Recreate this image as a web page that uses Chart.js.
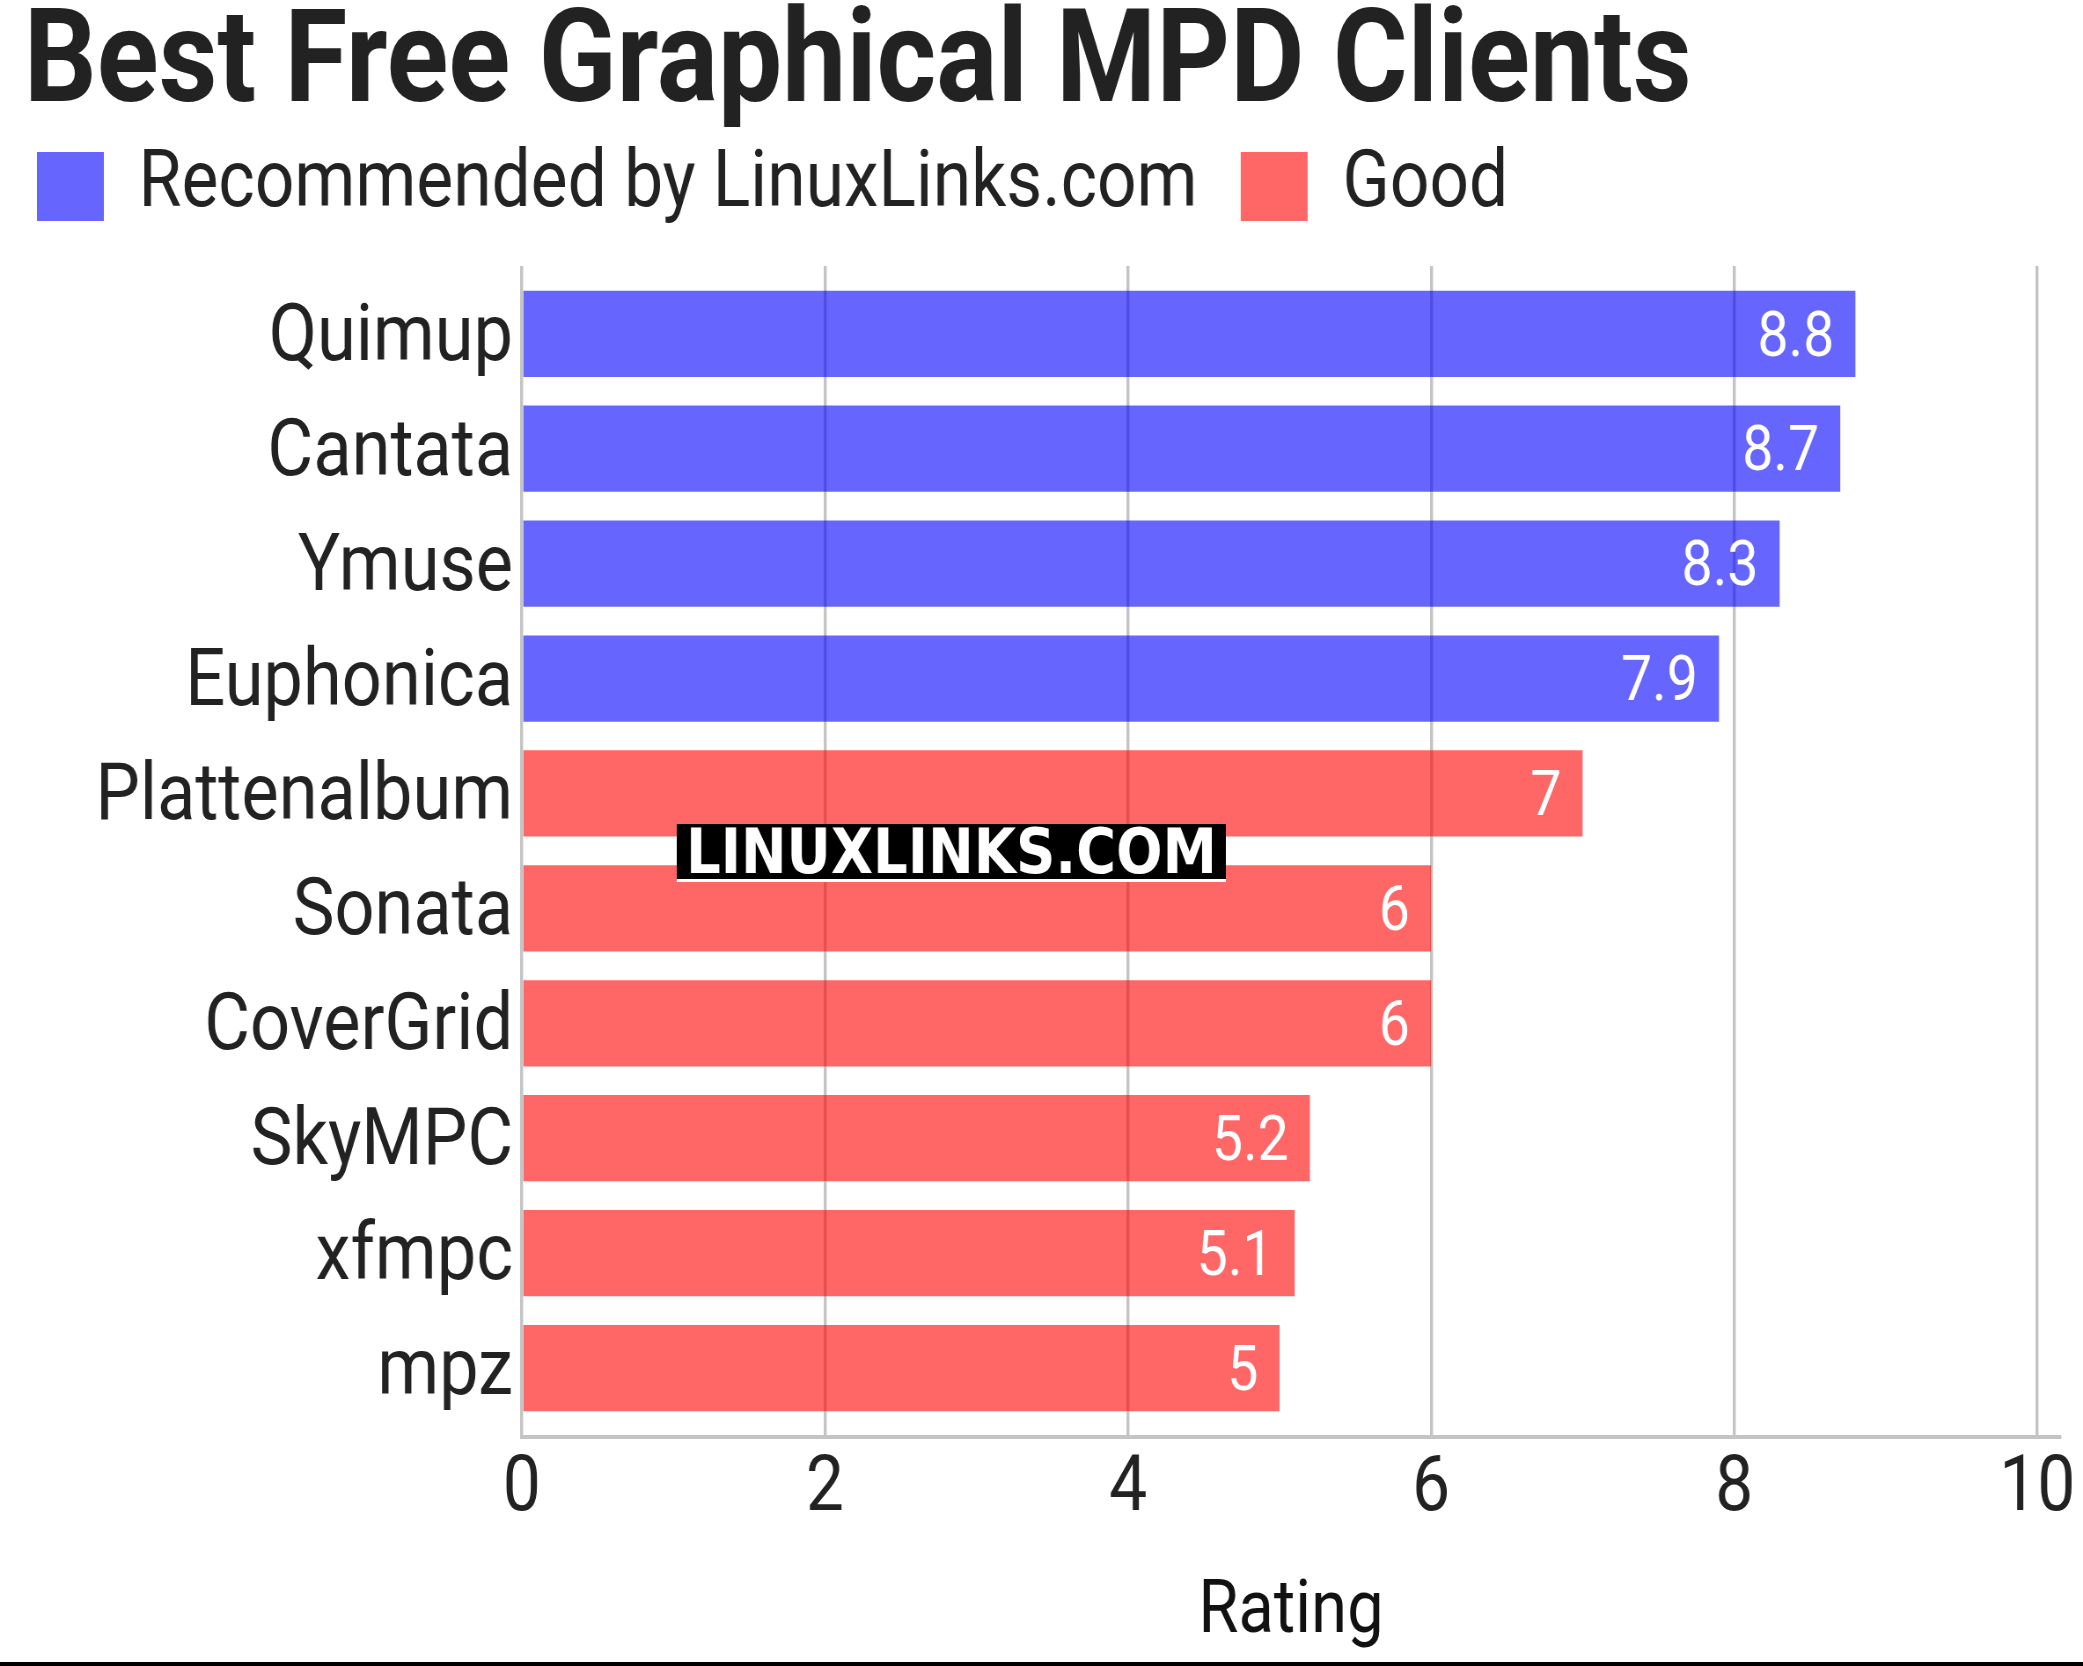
<!DOCTYPE html>
<html>
<head>
<meta charset="utf-8">
<title>Best Free Graphical MPD Clients</title>
<script src="https://cdn.jsdelivr.net/npm/chart.js@4.4.1/dist/chart.umd.min.js"></script>
<style>
  html, body { margin: 0; padding: 0; background: #fff; }
  #chart { display: block; }
</style>
</head>
<body>
<canvas id="chart"></canvas>
<script>
'use strict';

// chart data
const clients = ['Quimup', 'Cantata', 'Ymuse', 'Euphonica', 'Plattenalbum',
                 'Sonata', 'CoverGrid', 'SkyMPC', 'xfmpc', 'mpz'];
const ratings = [8.8, 8.7, 8.3, 7.9, 7, 6, 6, 5.2, 5.1, 5];
const groups = ['Recommended by LinuxLinks.com', 'Recommended by LinuxLinks.com',
                'Recommended by LinuxLinks.com', 'Recommended by LinuxLinks.com',
                'Good', 'Good', 'Good', 'Good', 'Good', 'Good'];
const groupNames = ['Recommended by LinuxLinks.com', 'Good'];
const groupColors = ['rgba(0, 0, 255, 0.6)', 'rgba(255, 0, 0, 0.6)'];
const xTickStep = 2;
const xMax = 10;

// the reference uses a condensed face, so the canvas is drawn wider and squeezed
const SQUEEZE = 0.88;
const OUT_W = 2083;
const OUT_H = 1666;
const W = Math.round(OUT_W / SQUEEZE);

const canvas = document.getElementById('chart');
canvas.width = W;
canvas.height = OUT_H;
canvas.style.width = OUT_W + 'px';
canvas.style.height = OUT_H + 'px';

const FONT = 'Roboto';
const LEGEND_PAD = 49;

const datasets = groupNames.map((name, g) => ({
    label: name,
    data: clients
        .map((c, i) => ({x: ratings[i], y: i, group: groups[i]}))
        .filter(p => p.group === name),
    backgroundColor: groupColors[g],
    borderWidth: 0,
    grouped: false,
    categoryPercentage: 1,
    barPercentage: 0.75
}));

const valueLabels = {
    id: 'valueLabels',
    afterDatasetsDraw(chart) {
        const ctx = chart.ctx;
        ctx.save();
        ctx.font = '63px ' + FONT;
        ctx.fillStyle = '#ffffff';
        ctx.textAlign = 'right';
        ctx.textBaseline = 'middle';
        chart.data.datasets.forEach((ds, di) => {
            const meta = chart.getDatasetMeta(di);
            meta.data.forEach((bar, i) => {
                ctx.fillText(String(ds.data[i].x), bar.x - 24, bar.y + 6);
            });
        });
        ctx.restore();
    }
};

const decorations = {
    id: 'decorations',
    afterLayout(chart) {
        // nudge title and legend row to where the reference has them
        const tb = chart.titleBlock;
        tb.left += 5;
        tb.right += 5;
        const lg = chart.legend;
        const w = lg.width, h = lg.height;
        lg.left = 42 - LEGEND_PAD;
        lg.right = lg.left + w;
        lg.top = 147 - LEGEND_PAD;
        lg.bottom = lg.top + h;
        // x axis line runs a little past the last grid line
        chart.scales.x.right += 26;
    },
    afterDraw(chart) {
        const ctx = chart.ctx;
        ctx.save();
        // watermark
        ctx.fillStyle = '#000';
        ctx.fillRect(769, 824, 624, 55);
        ctx.fillStyle = '#fff';
        ctx.fillRect(769, 879, 624, 3);
        ctx.font = 'bold 62px "DejaVu Sans"';
        ctx.textAlign = 'center';
        ctx.textBaseline = 'alphabetic';
        ctx.fillText('LINUXLINKS.COM', 1081, 873);

        // bottom rule
        ctx.fillStyle = '#000';
        ctx.fillRect(0, OUT_H - 4, W, 4);
        ctx.restore();
    }
};

new Chart(canvas, {
    type: 'bar',
    data: {datasets: datasets},
    plugins: [valueLabels, decorations],
    options: {
        indexAxis: 'y',
        responsive: false,
        animation: false,
        devicePixelRatio: 1,
        layout: {padding: {left: 22, right: 52, top: 0, bottom: 0}},
        plugins: {
            title: {
                display: true,
                text: 'Best Free Graphical MPD Clients',
                align: 'start',
                color: '#222222',
                font: {family: FONT, size: 130, weight: 'bold', lineHeight: 0.92},
                padding: {top: 8.4, bottom: 0}
            },
            legend: {
                display: true,
                position: 'top',
                align: 'start',
                labels: {
                    boxWidth: 76,
                    boxHeight: 69,
                    padding: LEGEND_PAD,
                    color: '#222222',
                    font: {family: FONT, size: 79}
                }
            },
            tooltip: {enabled: false}
        },
        scales: {
            x: {
                type: 'linear',
                min: 0,
                max: xMax,
                ticks: {
                    stepSize: xTickStep,
                    color: '#222222',
                    padding: 8,
                    font: {family: FONT, size: 77}
                },
                grid: {color: '#c4c4c4', lineWidth: 3.4, drawTicks: false},
                border: {display: true, color: '#c4c4c4', width: 4},
                title: {
                    display: true,
                    text: 'Rating',
                    color: '#111111',
                    font: {family: FONT, size: 74},
                    padding: {top: 0, bottom: 8}
                },
                afterFit(scale) { scale.height = 229; }
            },
            y: {
                type: 'linear',
                reverse: true,
                offset: false,
                min: -0.59,
                max: 9.6,
                ticks: {
                    stepSize: 1,
                    includeBounds: false,
                    autoSkip: false,
                    padding: 10,
                    labelOffset: 6,
                    color: '#222222',
                    font: {family: FONT, size: 80},
                    callback: v => Number.isInteger(v) ? clients[v] : ''
                },
                grid: {display: false, drawTicks: false, offset: false},
                border: {display: false},
                afterFit(scale) { scale.width = 571; }
            }
        }
    }
});
</script>
</body>
</html>
